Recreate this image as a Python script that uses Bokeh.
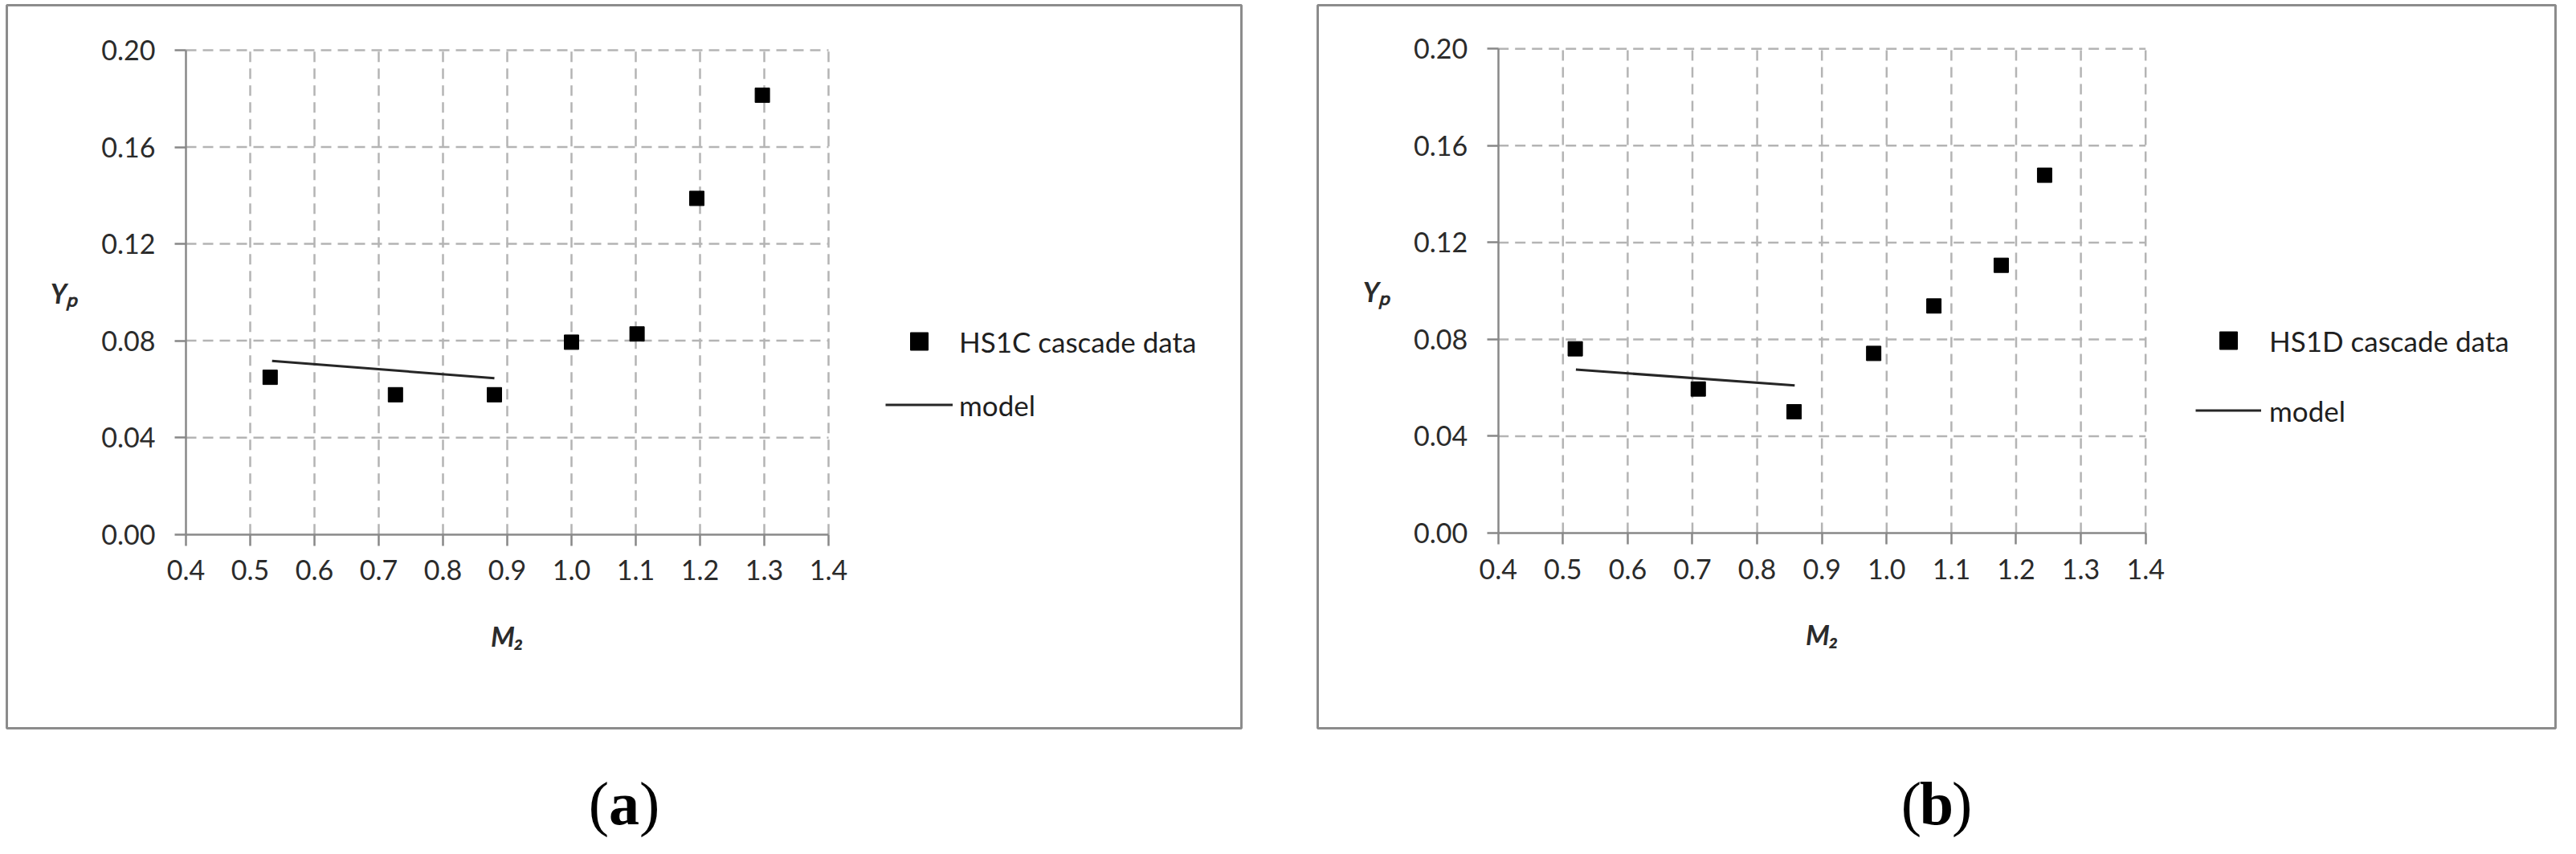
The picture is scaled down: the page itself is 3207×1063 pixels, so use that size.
from bokeh.plotting import figure
from bokeh.models import (LinearAxis, FixedTicker, NumeralTickFormatter, Range1d,
                          Legend, LegendItem)
from bokeh.layouts import row, column
from bokeh.embed import file_html
from bokeh.resources import INLINE
from bokeh.core.properties import value

# ---------------- data ----------------
m2_ticks = [0.4, 0.5, 0.6, 0.7, 0.8, 0.9, 1.0, 1.1, 1.2, 1.3, 1.4]
yp_ticks = [0.00, 0.04, 0.08, 0.12, 0.16, 0.20]

hs1c_m2 = [0.531, 0.726, 0.880, 1.000, 1.102, 1.195, 1.297]
hs1c_yp = [0.0649, 0.0577, 0.0577, 0.0794, 0.0828, 0.1388, 0.1814]
model_a_m2 = [0.534, 0.880]
model_a_yp = [0.0717, 0.0645]

hs1d_m2 = [0.519, 0.709, 0.857, 0.980, 1.073, 1.177, 1.244]
hs1d_yp = [0.0761, 0.0595, 0.0501, 0.0742, 0.0938, 0.1106, 0.1478]
model_b_m2 = [0.520, 0.858]
model_b_yp = [0.0675, 0.0610]

series_labels = ["HS1C cascade data", "HS1D cascade data"]
model_label = "model"
captions = ["a", "b"]
x_title = "M\u2082"
y_title = "Y\u209a"

# ---------------- styles ----------------
FONT = "Lato"
TXT = "#2b2b2b"
AXC = "#888888"
GRIDC = "#b4b4b4"
BOXC = "#8c8c8c"
PANEL_H = 910
CAP_H = 137


def panel(m2, yp, mm2, myp, label, width, mbl, mbr, xr, yr,
          leg_loc, glyph_w, spacing, standoff):
    p = figure(width=width, height=PANEL_H, x_range=Range1d(*xr), y_range=Range1d(*yr),
               x_axis_location=None, y_axis_location=None,
               output_backend="svg", toolbar_location=None,
               min_border_left=mbl, min_border_right=mbr,
               min_border_top=6, min_border_bottom=4)
    p.outline_line_color = BOXC
    p.outline_line_width = 3
    p.background_fill_color = "white"
    p.border_fill_color = "white"
    for g in p.grid:
        g.visible = False

    xg = m2_ticks[1:]
    yg = yp_ticks[1:]
    p.segment(x0=xg, y0=[yp_ticks[0]] * len(xg), x1=xg, y1=[yp_ticks[-1]] * len(xg),
              line_color=GRIDC, line_width=2.5, line_dash="13 8")
    p.segment(x0=[m2_ticks[0]] * len(yg), y0=yg, x1=[m2_ticks[-1]] * len(yg), y1=yg,
              line_color=GRIDC, line_width=2.5, line_dash="13 8")

    ln = p.line(mm2, myp, line_color="#262626", line_width=3)
    sq = p.scatter(m2, yp, marker="square", size=18,
                   fill_color="black", line_color="black")

    xa = LinearAxis(fixed_location=yp_ticks[0], bounds=(m2_ticks[0], m2_ticks[-1]),
                    ticker=FixedTicker(ticks=m2_ticks),
                    formatter=NumeralTickFormatter(format="0.0"),
                    axis_label=x_title)
    ya = LinearAxis(fixed_location=m2_ticks[0], bounds=(yp_ticks[0], yp_ticks[-1]),
                    ticker=FixedTicker(ticks=yp_ticks),
                    formatter=NumeralTickFormatter(format="0.00"),
                    axis_label=y_title)
    ya.axis_label_orientation = "horizontal"
    for ax, so, lso in ((xa, 18, 45), (ya, 24, 26)):
        ax.axis_line_color = AXC
        ax.axis_line_width = 2.5
        ax.major_tick_line_color = AXC
        ax.major_tick_line_width = 2.5
        ax.major_tick_out = 14
        ax.major_tick_in = 0
        ax.minor_tick_line_color = None
        ax.major_label_text_font = FONT
        ax.major_label_text_font_size = "34px"
        ax.major_label_text_color = TXT
        ax.major_label_standoff = so
        ax.axis_label_text_font = FONT
        ax.axis_label_text_font_size = "34px"
        ax.axis_label_text_font_style = "bold italic"
        ax.axis_label_text_color = TXT
        ax.axis_label_standoff = lso
    p.add_layout(xa, "below")
    p.add_layout(ya, "left")

    leg = Legend(items=[LegendItem(label=label, renderers=[sq]),
                        LegendItem(label=model_label, renderers=[ln])],
                 location=leg_loc)
    leg.border_line_color = None
    leg.background_fill_alpha = 0
    leg.padding = 0
    leg.margin = 0
    leg.glyph_width = glyph_w
    leg.glyph_height = 55
    leg.spacing = spacing
    leg.label_standoff = standoff
    leg.label_text_font = FONT
    leg.label_text_font_size = "35px"
    leg.label_text_color = "#1f1f1f"
    p.add_layout(leg, "center")
    return p


pa = panel(hs1c_m2, hs1c_yp, model_a_m2, model_a_yp, series_labels[0],
           1592, 8, 47, (0.12125, 2.0425), (-0.080073, 0.218583),
           (1094, 375), 84, 24, 8)
pb = panel(hs1d_m2, hs1d_yp, model_b_m2, model_b_yp, series_labels[1],
           1599, 48, 10, (0.12122, 2.03313), (-0.080637, 0.218019),
           (1093, 368), 82, 32, 10)

# caption strip
W = 1592 + 1599
cap = figure(width=W, height=CAP_H, x_range=Range1d(0, W), y_range=Range1d(0, CAP_H),
             x_axis_location=None, y_axis_location=None,
             output_backend="svg", toolbar_location=None)
cap.min_border = 0
cap.outline_line_color = None
for g in cap.grid:
    g.visible = False
centers = [8 + 1537 / 2, 1592 + 48 + 1541 / 2]
mid = [CAP_H - 89, CAP_H - 89]
cfont = value("Liberation Serif")
cap.text(x=[c - 19 for c in centers], y=mid, text=["(", "("], text_align="right",
         text_baseline="middle", text_font=cfont, text_font_size="76px", text_color="black")
cap.text(x=centers, y=mid, text=captions, text_align="center", text_font_style="bold",
         text_baseline="middle", text_font=cfont, text_font_size="76px", text_color="black")
cap.text(x=[c + 19 for c in centers], y=mid, text=[")", ")"], text_align="left",
         text_baseline="middle", text_font=cfont, text_font_size="76px", text_color="black")

layout = column(row(pa, pb), cap)
open("out.html", "w").write(file_html(layout, INLINE))
